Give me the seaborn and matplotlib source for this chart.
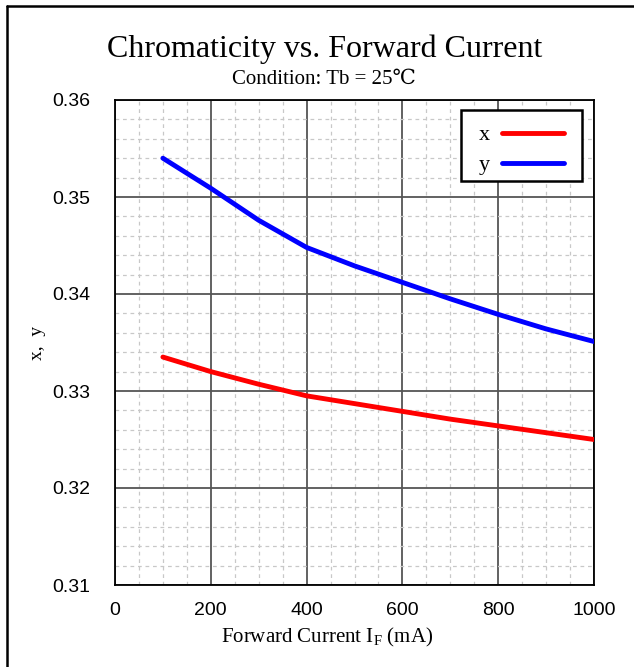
import numpy as np
import pandas as pd
import seaborn as sns
import matplotlib.pyplot as plt
from matplotlib.ticker import MultipleLocator
from matplotlib.lines import Line2D
from matplotlib.patches import Rectangle

# ===============================
# Dados
# ===============================
current_ma = [100, 200, 300, 400, 500, 600, 700, 800, 900, 1000]
chroma_x = [0.3335, 0.3320, 0.3307, 0.3295, 0.3287, 0.3279, 0.3271, 0.3264, 0.3257, 0.3250]
chroma_y = [0.3540, 0.3509, 0.3476, 0.3448, 0.3429, 0.3412, 0.3395, 0.3379, 0.3364, 0.3351]

series_names = ['x', 'y']
series_colors = ['#ff0000', '#0000ff']

df = pd.DataFrame({
    'If': current_ma * 2,
    'value': chroma_x + chroma_y,
    'coord': ['x'] * len(current_ma) + ['y'] * len(current_ma),
})

sns.set_style('white')
plt.rcParams['font.family'] = ['Liberation Serif', 'DejaVu Serif']
plt.rcParams['mathtext.fontset'] = 'custom'
plt.rcParams['mathtext.rm'] = 'Liberation Serif'
plt.rcParams['mathtext.it'] = 'Liberation Serif:italic'
plt.rcParams['text.color'] = 'black'
plt.rcParams['axes.labelcolor'] = 'black'
plt.rcParams['xtick.color'] = 'black'
plt.rcParams['ytick.color'] = 'black'

fig = plt.figure(figsize=(6.34, 6.67), dpi=100)
ax = fig.add_axes([115 / 634, 1 - 585 / 667, 479 / 634, 485 / 667])

sns.lineplot(data=df, x='If', y='value', hue='coord', palette=series_colors,
             linewidth=3.5, legend=False, ax=ax, zorder=3)

ax.set_xlim(0, 1000)
ax.set_ylim(0.31, 0.36)
ax.xaxis.set_major_locator(MultipleLocator(200))
ax.xaxis.set_minor_locator(MultipleLocator(50))
ax.yaxis.set_major_locator(MultipleLocator(0.01))
ax.yaxis.set_minor_locator(MultipleLocator(0.002))
ax.set_yticklabels([f'{v:.2f}' for v in ax.get_yticks()])

ax.grid(which='major', color='#555555', linewidth=1.3, linestyle='-')
ax.grid(which='minor', color='#c8c8c8', linewidth=0.9, linestyle=(0, (3, 3)))
ax.set_axisbelow(True)

for sp in ax.spines.values():
    sp.set_color('black')
    sp.set_linewidth(1.3)

ax.tick_params(axis='both', which='both', length=0)
ax.tick_params(axis='x', pad=12)
ax.tick_params(axis='y', pad=18)
for lab in ax.get_xticklabels() + ax.get_yticklabels():
    lab.set_family('Liberation Sans')
    lab.set_fontsize(14)

ax.set_xlabel('Forward Current I$_\\mathrm{F}$ (mA)', fontsize=15)
ax.xaxis.set_label_coords((327 - 115) / 479, -(637 - 585) / 485)
ax.xaxis.label.set_va('center')
ax.set_ylabel('x,  y', fontsize=14)
ax.yaxis.set_label_coords(-(115 - 37) / 479, 0.5)
ax.yaxis.label.set_va('center')

# legenda: caixa desenhada à parte para ter o mesmo espaçamento do original
ax.add_patch(Rectangle((0.7223, 0.833), 0.2527, 0.1464, transform=ax.transAxes,
                       facecolor='white', edgecolor='black', linewidth=1.8, zorder=4))
handles = [Line2D([], [], color=c, linewidth=3.5) for c in series_colors]
leg = ax.legend(handles, series_names, loc='upper right',
                bbox_to_anchor=(0.9374, 0.949), borderaxespad=0,
                markerfirst=False, frameon=False, fontsize=16, handlelength=2.8,
                handletextpad=0.55, borderpad=0, labelspacing=0.43)
leg.set_zorder(5)

fig.text(325 / 634, 1 - 49 / 667, 'Chromaticity vs. Forward Current',
         ha='center', va='center', fontsize=23)
fig.text(324 / 634, 1 - 79 / 667, 'Condition: Tb = 25℃',
         ha='center', va='center', fontsize=15)

# borda da figura (esquerda e topo)
fig.add_artist(Line2D([6.5 / 634, 6.5 / 634], [0, 1 - 6 / 667],
                      transform=fig.transFigure, color='black', linewidth=1.8))
fig.add_artist(Line2D([6.5 / 634, 1], [1 - 6 / 667, 1 - 6 / 667],
                      transform=fig.transFigure, color='black', linewidth=1.8))

fig.savefig('out.png', dpi=100)
